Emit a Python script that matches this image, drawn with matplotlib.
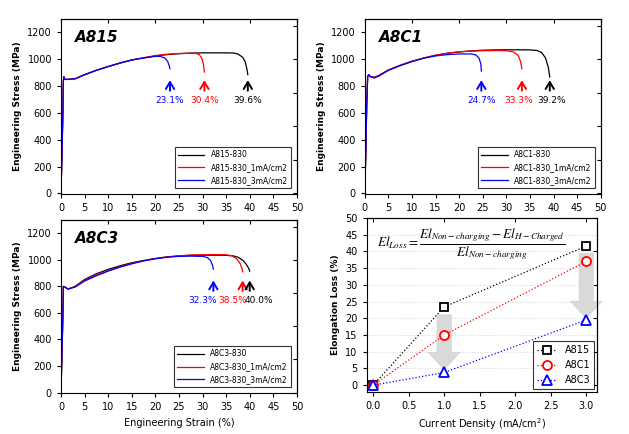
import matplotlib.pyplot as plt

# -----------------------------
# Data: stress-strain curves (strain %, stress MPa)
# -----------------------------
a815_strain_0 = [0, 0.2, 0.4, 0.5, 0.6, 0.8, 1.5, 3, 5, 7.5, 10, 12.5, 15, 17.5, 20, 22.5, 25, 27.5, 30, 32.5, 35, 36.5, 37.5, 38.5, 39.0, 39.4, 39.6]
a815_stress_0 = [0, 300, 600, 840, 870, 850, 850, 855, 885, 918, 946, 972, 995, 1010, 1025, 1035, 1042, 1046, 1048, 1048, 1048, 1047, 1040, 1015, 985, 930, 885]
a815_strain_1 = [0, 0.2, 0.4, 0.5, 0.6, 0.8, 1.5, 3, 5, 7.5, 10, 12.5, 15, 17.5, 20, 22.5, 25, 27.5, 28.5, 29.3, 29.9, 30.2, 30.4]
a815_stress_1 = [0, 300, 600, 840, 870, 850, 850, 855, 885, 918, 946, 972, 995, 1012, 1028, 1038, 1043, 1046, 1045, 1035, 1005, 960, 905]
a815_strain_3 = [0, 0.2, 0.4, 0.5, 0.6, 0.8, 1.5, 3, 5, 7.5, 10, 12.5, 15, 17.5, 20, 21, 22, 22.6, 22.9, 23.1]
a815_stress_3 = [0, 300, 600, 840, 870, 850, 850, 855, 885, 918, 946, 972, 995, 1010, 1022, 1022, 1010, 985, 955, 930]

a8c1_strain_0 = [0, 0.2, 0.4, 0.6, 0.8, 1.2, 2, 3, 5, 7.5, 10, 12.5, 15, 17.5, 20, 22.5, 25, 27.5, 30, 32.5, 35, 36.5, 37.5, 38.3, 38.9, 39.2]
a8c1_stress_0 = [0, 300, 650, 870, 885, 870, 865, 880, 920, 955, 985, 1010, 1030, 1045, 1055, 1062, 1068, 1070, 1071, 1071, 1070, 1066, 1050, 1010, 940, 868]
a8c1_strain_1 = [0, 0.2, 0.4, 0.6, 0.8, 1.2, 2, 3, 5, 7.5, 10, 12.5, 15, 17.5, 20, 22.5, 25, 27.5, 30, 31.5, 32.5, 33.0, 33.3]
a8c1_stress_1 = [0, 300, 650, 870, 885, 870, 865, 880, 920, 955, 985, 1010, 1030, 1046, 1056, 1062, 1064, 1065, 1064, 1055, 1030, 985, 930]
a8c1_strain_3 = [0, 0.2, 0.4, 0.6, 0.8, 1.2, 2, 3, 5, 7.5, 10, 12.5, 15, 17.5, 20, 22.5, 23.5, 24.2, 24.6, 24.7]
a8c1_stress_3 = [0, 300, 650, 870, 885, 870, 860, 875, 918, 953, 983, 1008, 1025, 1035, 1040, 1040, 1033, 1010, 965, 912]

a8c3_strain_0 = [0, 0.2, 0.4, 0.5, 0.8, 1.5, 3, 5, 7.5, 10, 12.5, 15, 17.5, 20, 22.5, 25, 27.5, 30, 32.5, 35, 36.5, 37.5, 38.5, 39.3, 39.8, 40.0]
a8c3_stress_0 = [0, 300, 580, 800, 795, 780, 800, 852, 895, 928, 955, 978, 995, 1010, 1022, 1030, 1034, 1035, 1035, 1034, 1030, 1020, 998, 965, 935, 915]
a8c3_strain_1 = [0, 0.2, 0.4, 0.5, 0.8, 1.5, 3, 5, 7.5, 10, 12.5, 15, 17.5, 20, 22.5, 25, 27.5, 30, 32.5, 35, 36.3, 37.3, 38.0, 38.4, 38.5]
a8c3_stress_1 = [0, 300, 580, 800, 795, 780, 798, 845, 885, 918, 948, 973, 993, 1010, 1022, 1030, 1036, 1039, 1040, 1038, 1030, 1005, 970, 930, 910]
a8c3_strain_3 = [0, 0.2, 0.4, 0.5, 0.8, 1.5, 3, 5, 7.5, 10, 12.5, 15, 17.5, 20, 22.5, 25, 27.5, 30, 31.0, 31.7, 32.1, 32.3]
a8c3_stress_3 = [0, 300, 580, 800, 795, 780, 795, 840, 880, 915, 945, 970, 992, 1008, 1020, 1026, 1028, 1026, 1018, 995, 960, 930]

# fracture strain labels (value, label x, colour)
a815_labels = [(23.1, 23.1, "blue"), (30.4, 30.4, "red"), (39.6, 39.6, "black")]
a8c1_labels = [(24.7, 24.7, "blue"), (33.3, 32.6, "red"), (39.2, 39.6, "black")]
a8c3_labels = [(32.3, 30.0, "blue"), (38.5, 36.4, "red"), (40.0, 42.0, "black")]

# elongation loss data
current = [0.0, 1.0, 3.0]
loss_a815 = [0, 23.4, 41.6]
loss_a8c1 = [0, 15.0, 37.0]
loss_a8c3 = [0, 3.8, 19.5]

fig = plt.figure(figsize=(6.29, 4.34), dpi=100)


def add_mirror_ticks(ax):
    top = ax.secondary_xaxis("top")
    top.tick_params(direction="in", labeltop=False, length=3, width=0.8)
    right = ax.secondary_yaxis("right")
    right.tick_params(direction="in", labelright=False, length=3, width=0.8)


def stress_panel(rect, name, curves, labels, show_xlabel):
    ax = fig.add_axes(rect)
    for (x, y, c, lab) in curves:
        ax.plot(x, y, color=c, lw=0.9, label=lab)
    ax.set_xlim(0, 50)
    ax.set_ylim(-5, 1300)
    ax.set_xticks(range(0, 51, 5))
    ax.set_yticks(range(0, 1201, 200))
    ax.tick_params(labelsize=7, length=3, width=0.8)
    ax.set_ylabel("Engineering Stress (MPa)", fontsize=6.5, fontweight="bold")
    if show_xlabel:
        ax.set_xlabel("Engineering Strain (%)", fontsize=7)
    ax.text(3, 1130, name, fontsize=11, fontweight="bold", style="italic")
    for val, lx, c in labels:
        ax.annotate("", xy=(val, 865), xytext=(val, 745),
                    arrowprops=dict(arrowstyle="->,head_length=0.5,head_width=0.3", color=c, lw=1.4))
        ax.text(lx, 690, "%.1f%%" % val, color=c, fontsize=6.5, ha="center", va="center")
    leg = ax.legend(loc="lower right", fontsize=5.5, frameon=True, fancybox=False,
                    edgecolor="black", handlelength=3.5, borderaxespad=0.8)
    leg.get_frame().set_linewidth(0.8)
    add_mirror_ticks(ax)
    return ax


stress_panel([0.097, 0.553, 0.375, 0.403], "A815",
             [(a815_strain_0, a815_stress_0, "black", "A815-830"),
              (a815_strain_1, a815_stress_1, "red", "A815-830_1mA/cm2"),
              (a815_strain_3, a815_stress_3, "blue", "A815-830_3mA/cm2")],
             a815_labels, False)

stress_panel([0.580, 0.553, 0.375, 0.403], "A8C1",
             [(a8c1_strain_0, a8c1_stress_0, "black", "A8C1-830"),
              (a8c1_strain_1, a8c1_stress_1, "red", "A8C1-830_1mA/cm2"),
              (a8c1_strain_3, a8c1_stress_3, "blue", "A8C1-830_3mA/cm2")],
             a8c1_labels, False)

stress_panel([0.097, 0.094, 0.375, 0.399], "A8C3",
             [(a8c3_strain_0, a8c3_stress_0, "black", "A8C3-830"),
              (a8c3_strain_1, a8c3_stress_1, "red", "A8C3-830_1mA/cm2"),
              (a8c3_strain_3, a8c3_stress_3, "blue", "A8C3-830_3mA/cm2")],
             a8c3_labels, True)

# -----------------------------
# Elongation loss panel
# -----------------------------
ax4 = fig.add_axes([0.583, 0.097, 0.366, 0.401])
for yv in range(5, 50, 5):
    ax4.axhline(yv, color="#c8c8c8", lw=0.6, ls=(0, (1, 2)), zorder=0)

arrow_style = "simple,tail_width=0.5,head_width=1.1,head_length=0.6"
ax4.annotate("", xy=(1.0, 3.6), xytext=(1.0, 22.0),
             arrowprops=dict(arrowstyle=arrow_style, color="#d9d9d9", lw=0, mutation_scale=22), zorder=1)
ax4.annotate("", xy=(3.0, 18.9), xytext=(3.0, 40.4),
             arrowprops=dict(arrowstyle=arrow_style, color="#d9d9d9", lw=0, mutation_scale=22), zorder=1)

ax4.plot(current, loss_a815, ls=":", color="black", lw=0.9, marker="s", ms=6,
         mfc="white", mec="black", mew=1.3, label="A815", zorder=3)
ax4.plot(current, loss_a8c1, ls=":", color="red", lw=0.9, marker="o", ms=6.5,
         mfc="white", mec="red", mew=1.3, label="A8C1", zorder=3)
ax4.plot(current, loss_a8c3, ls=":", color="blue", lw=0.9, marker="^", ms=7,
         mfc="white", mec="blue", mew=1.3, label="A8C3", zorder=3)

ax4.set_xlim(-0.09, 3.15)
ax4.set_ylim(-2, 50)
ax4.set_xticks([0.0, 0.5, 1.0, 1.5, 2.0, 2.5, 3.0])
ax4.set_xticklabels(["0.0", "0.5", "1.0", "1.5", "2.0", "2.5", "3.0"])
ax4.set_yticks(range(0, 51, 5))
ax4.tick_params(labelsize=7, length=3, width=0.8)
ax4.set_xlabel("Current Density (mA/cm$^2$)", fontsize=7)
ax4.set_ylabel("Elongation Loss (%)", fontsize=6.5, fontweight="bold")
ax4.text(1.38, 42.3,
         r"$El_{Loss}=\dfrac{El_{Non-charging}-El_{H-Charged}}{El_{Non-charging}}$",
         fontsize=9.5, math_fontfamily="stix", ha="center", va="center")
leg = ax4.legend(loc="lower right", fontsize=7, frameon=True, fancybox=False,
                 edgecolor="black", handlelength=2.0, borderaxespad=0.3)
leg.get_frame().set_linewidth(0.8)
add_mirror_ticks(ax4)

plt.savefig("out.png", dpi=100)
